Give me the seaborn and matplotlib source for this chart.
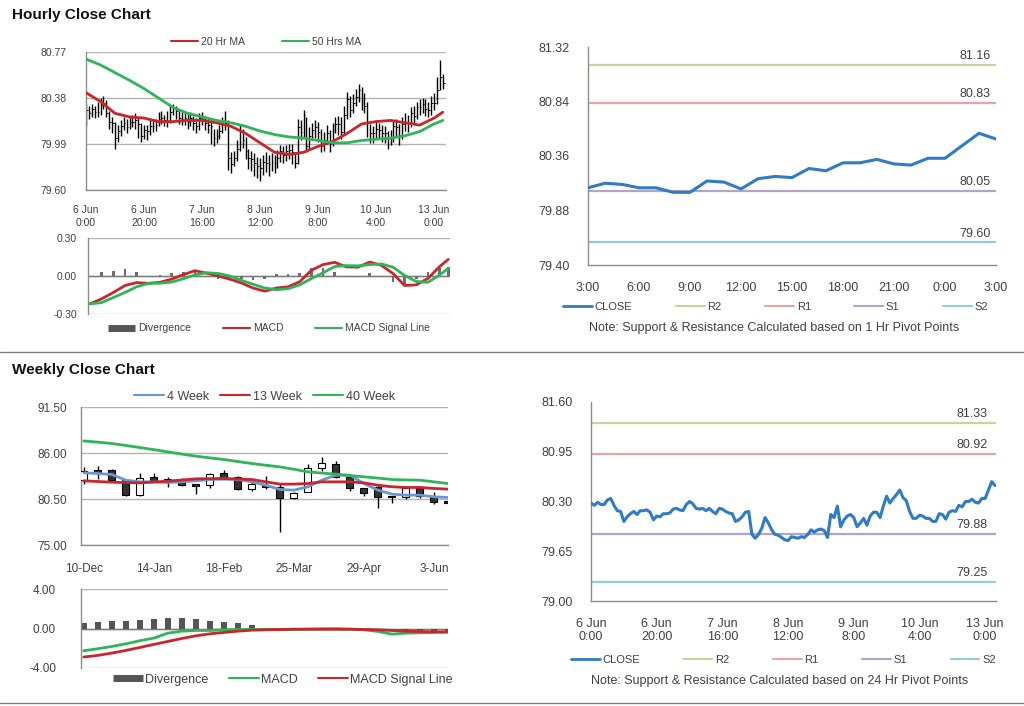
import matplotlib
matplotlib.use("Agg")
import matplotlib.pyplot as plt
from matplotlib.lines import Line2D
import seaborn as sns

# hourly closes, 6 Jun 0:00 -> 13 Jun 3:00 (124 trading hours)
hour_close = [80.28, 80.25, 80.29, 80.26, 80.26, 80.32, 80.34, 80.25, 80.18, 80.17,
              80.04, 80.10, 80.14, 80.17, 80.13, 80.18, 80.18, 80.19, 80.16, 80.06,
              80.11, 80.10, 80.14, 80.14, 80.15, 80.20, 80.21, 80.19, 80.18, 80.26,
              80.30, 80.27, 80.21, 80.20, 80.21, 80.18, 80.21, 80.17, 80.14, 80.21,
              80.20, 80.17, 80.15, 80.14, 80.04, 80.06, 80.10, 80.16, 80.17, 79.87,
              79.82, 79.87, 79.95, 80.09, 80.02, 79.93, 79.87, 79.86, 79.83, 79.80,
              79.79, 79.84, 79.83, 79.82, 79.84, 79.83, 79.87, 79.93, 79.90, 79.93,
              79.94, 79.92, 79.83, 80.13, 80.09, 80.24, 79.97, 80.06, 80.11, 80.13,
              80.09, 79.97, 80.02, 80.08, 79.99, 80.11, 80.16, 80.16, 80.09, 80.24,
              80.37, 80.28, 80.34, 80.39, 80.45, 80.35, 80.31, 80.17, 80.08,
              80.08, 80.12, 80.11, 80.08, 80.08, 80.04, 80.04, 80.14, 80.13, 80.07,
              80.16, 80.18, 80.17, 80.25, 80.23, 80.30, 80.30, 80.33, 80.29, 80.28,
              80.34, 80.34, 80.45, 80.56, 80.51]
hour_high = [80.33, 80.31, 80.33, 80.31, 80.35, 80.38, 80.40, 80.36, 80.27, 80.22,
             80.18, 80.15, 80.19, 80.22, 80.20, 80.23, 80.24, 80.25, 80.22, 80.17,
             80.15, 80.15, 80.19, 80.19, 80.20, 80.26, 80.27, 80.24, 80.27, 80.31,
             80.33, 80.31, 80.27, 80.26, 80.27, 80.25, 80.26, 80.23, 80.21, 80.25,
             80.26, 80.23, 80.21, 80.19, 80.12, 80.12, 80.15, 80.22, 80.27, 80.19,
             79.92, 79.93, 80.02, 80.15, 80.12, 80.05, 79.95, 79.93, 79.91, 79.88,
             79.87, 79.90, 79.92, 79.90, 79.91, 79.90, 79.94, 79.98, 79.97, 79.98,
             79.99, 79.99, 79.92, 80.20, 80.19, 80.28, 80.22, 80.13, 80.17, 80.19,
             80.18, 80.12, 80.09, 80.15, 80.11, 80.17, 80.22, 80.23, 80.22, 80.31,
             80.43, 80.40, 80.41, 80.46, 80.50, 80.47, 80.42, 80.35, 80.16,
             80.14, 80.18, 80.17, 80.15, 80.14, 80.10, 80.11, 80.19, 80.20, 80.16,
             80.22, 80.25, 80.24, 80.30, 80.31, 80.35, 80.37, 80.38, 80.37, 80.35,
             80.40, 80.42, 80.56, 80.70, 80.58]
hour_low = [80.14, 80.20, 80.22, 80.21, 80.22, 80.24, 80.29, 80.22, 80.12, 80.08,
            79.95, 80.01, 80.06, 80.11, 80.08, 80.12, 80.13, 80.12, 80.04, 80.01,
            80.03, 80.02, 80.07, 80.09, 80.10, 80.14, 80.16, 80.14, 80.13, 80.17,
            80.24, 80.20, 80.16, 80.15, 80.15, 80.12, 80.14, 80.11, 80.08, 80.11,
            80.15, 80.11, 80.08, 79.99, 79.97, 80.00, 80.03, 80.08, 80.11, 79.77,
            79.74, 79.80, 79.85, 79.93, 79.96, 79.86, 79.78, 79.76, 79.72, 79.70,
            79.68, 79.73, 79.75, 79.72, 79.76, 79.74, 79.79, 79.84, 79.83, 79.85,
            79.86, 79.82, 79.79, 79.82, 80.02, 80.05, 79.92, 79.95, 80.02, 80.04,
            80.01, 79.92, 79.93, 79.99, 79.92, 79.97, 80.08, 80.07, 80.03, 80.07,
            80.20, 80.22, 80.25, 80.31, 80.35, 80.28, 80.25, 80.05, 80.00,
            80.00, 80.04, 80.04, 80.01, 80.00, 79.95, 79.98, 80.01, 80.06, 79.98,
            80.03, 80.10, 80.09, 80.13, 80.17, 80.20, 80.24, 80.25, 80.23, 80.22,
            80.24, 80.28, 80.33, 80.45, 80.46]
hour_labels = ["6 Jun\n0:00", "6 Jun\n20:00", "7 Jun\n16:00", "8 Jun\n12:00",
               "9 Jun\n8:00", "10 Jun\n4:00", "13 Jun\n0:00"]

# moving averages, read every 5 hours
ma_idx = [0, 5, 10, 15, 20, 25, 30, 35, 40, 45, 50, 55, 60, 65, 70, 75, 80, 85, 90,
          95, 100, 105, 110, 115, 120, 123]
ma20 = [80.425, 80.35, 80.25, 80.22, 80.21, 80.18, 80.18, 80.19, 80.19, 80.17, 80.14,
        80.08, 80.00, 79.92, 79.90, 79.92, 79.97, 80.01, 80.08, 80.16, 80.18, 80.19,
        80.17, 80.15, 80.21, 80.26]
ma50 = [80.71, 80.66, 80.595, 80.53, 80.46, 80.38, 80.30, 80.25, 80.22, 80.19, 80.17,
        80.14, 80.10, 80.07, 80.05, 80.04, 80.02, 80.00, 80.00, 80.02, 80.03, 80.04,
        80.06, 80.095, 80.16, 80.19]

# hourly MACD, read every 4 hours
macd_idx = [0, 4, 8, 12, 16, 20, 24, 28, 32, 36, 40, 44, 48, 52, 56, 60, 64, 68, 72,
            76, 80, 84, 88, 92, 96, 100, 104, 108, 112, 116, 120, 123]
h_macd = [-0.22, -0.18, -0.13, -0.075, -0.052, -0.058, -0.05, -0.025, 0.01, 0.042,
          0.022, 0.0, -0.025, -0.055, -0.095, -0.12, -0.095, -0.085, -0.045, 0.045,
          0.09, 0.108, 0.072, 0.07, 0.11, 0.085, 0.02, -0.075, -0.07, -0.02, 0.074, 0.131]
h_signal = [-0.22, -0.21, -0.17, -0.13, -0.085, -0.058, -0.057, -0.048, -0.022, 0.008,
            0.026, 0.02, 0.0, -0.035, -0.065, -0.095, -0.108, -0.10, -0.07, -0.02,
            0.025, 0.075, 0.082, 0.08, 0.09, 0.095, 0.07, 0.005, -0.043, -0.05, 0.008, 0.06]

# pivot levels
day_labels = ["3:00", "6:00", "9:00", "12:00", "15:00", "18:00", "21:00", "0:00", "3:00"]
lvl_names = ["R2", "R1", "S1", "S2"]
lvl_1h = [81.16, 80.83, 80.05, 79.60]
lvl_24h = [81.33, 80.92, 79.88, 79.25]
lvl_colors = ["#c4d79b", "#e6a5a5", "#b3a2c9", "#93cddd"]

# weekly candles, 10-Dec -> 10-Jun
week_labels = ["10-Dec", "14-Jan", "18-Feb", "25-Mar", "29-Apr", "3-Jun"]
w_open = [82.75, 83.95, 83.94, 82.83, 80.96, 83.15, 82.87, 82.55, 82.30, 82.15, 83.55,
          83.15, 81.64, 82.23, 81.96, 80.57, 81.36, 84.26, 84.66, 83.15, 81.76, 81.96,
          80.85, 80.76, 81.76, 80.76, 80.30]
w_close = [83.87, 83.75, 82.83, 80.96, 83.07, 82.75, 82.55, 82.15, 82.05, 83.47, 83.07,
           81.64, 82.35, 81.88, 80.57, 81.24, 84.26, 84.85, 83.15, 81.76, 81.16, 80.68,
           80.68, 81.76, 80.85, 80.20, 80.05]
w_high = [84.34, 84.40, 84.10, 82.90, 83.60, 83.60, 83.10, 83.00, 82.30, 83.60, 84.00,
          83.30, 82.90, 83.30, 82.30, 81.30, 84.70, 85.50, 85.10, 83.30, 81.80, 82.30,
          80.80, 82.10, 82.10, 81.30, 80.30]
w_low = [82.35, 82.90, 82.60, 80.80, 80.80, 82.60, 81.96, 82.00, 81.08, 81.80, 82.90,
         81.60, 81.50, 81.70, 76.50, 80.50, 81.30, 83.90, 83.00, 81.40, 80.80, 79.37,
         80.05, 80.50, 80.60, 79.90, 80.00]
w_ma4 = [83.63, 83.55, 83.43, 82.75, 82.55, 82.55, 82.47, 82.55, 82.67, 82.83, 82.87,
         82.83, 82.55, 82.15, 81.64, 81.56, 81.96, 82.75, 83.35, 83.35, 82.35, 81.56,
         81.08, 80.96, 80.96, 80.76, 80.68]
w_ma13 = [82.67, 82.59, 82.51, 82.47, 82.43, 82.53, 82.63, 82.77, 82.91, 82.93, 82.95,
          82.89, 82.83, 82.55, 82.28, 82.28, 82.35, 82.55, 82.55, 82.55, 82.43, 82.15,
          81.96, 81.88, 81.88, 81.76, 81.68]
w_ma40 = [87.44, 87.30, 87.13, 86.90, 86.65, 86.40, 86.13, 85.87, 85.62, 85.42, 85.22,
          84.98, 84.74, 84.54, 84.34, 84.05, 83.75, 83.60, 83.47, 83.30, 83.15, 83.00,
          82.83, 82.78, 82.75, 82.55, 82.35]
w_div = [0.54, 0.70, 0.80, 0.80, 0.90, 1.00, 1.10, 1.10, 1.00, 0.80, 0.67, 0.54, 0.34,
         0.10, 0.05, 0.02, 0.02, 0.0, 0.0, 0.0, -0.05, -0.13, -0.20, -0.25, -0.30, -0.30, -0.25]
w_macd = [-2.25, -2.05, -1.82, -1.55, -1.24, -0.97, -0.47, -0.27, -0.20, -0.20, -0.13,
          -0.10, -0.10, -0.10, -0.13, -0.10, -0.07, -0.03, -0.03, -0.07, -0.13, -0.30,
          -0.57, -0.47, -0.44, -0.40, -0.37]
w_signal = [-2.89, -2.72, -2.49, -2.22, -1.92, -1.61, -1.31, -1.01, -0.74, -0.54, -0.40,
            -0.27, -0.17, -0.13, -0.10, -0.07, -0.07, -0.07, -0.07, -0.07, -0.10, -0.13,
            -0.20, -0.27, -0.30, -0.34, -0.34]

RED = "#c8262b"
GREEN = "#2fb45a"
BLUE = "#2f7bc4"
LBLUE = "#6b96d2"
GRID = "#b4b4b4"
SPINE = "#8c8c8c"
TXT = "#404040"
W, H = 1024, 706

sns.set_theme(style="white")
plt.rcParams["font.family"] = ["Liberation Sans", "DejaVu Sans"]


def box(x0, y0, x1, y1):
    return [x0 / W, 1 - y1 / H, (x1 - x0) / W, (y1 - y0) / H]


def style_ax(ax, fs, xpad=8, ypad=8):
    for s in ["top", "right"]:
        ax.spines[s].set_visible(False)
    for s in ["left", "bottom"]:
        ax.spines[s].set_color(SPINE)
        ax.spines[s].set_linewidth(1)
    ax.tick_params(axis="both", labelsize=fs, colors=TXT, length=3, width=0.8,
                   direction="out")
    ax.tick_params(axis="x", pad=xpad, color=SPINE)
    ax.tick_params(axis="y", pad=ypad, color=SPINE)


def div_handle():
    return Line2D([], [], color="#555555", lw=5, solid_capstyle="butt")


def level_chart(ax, xs, close, levels, yticks, ylim, xticks, xlabels, label_xfrac):
    for name, val, col in zip(lvl_names, levels, lvl_colors):
        ax.axhline(val, color=col, lw=1.6, zorder=1)
        ax.annotate(f"{val:.2f}", xy=(label_xfrac, val),
                    xycoords=ax.get_yaxis_transform(), xytext=(0, 2),
                    textcoords="offset points", ha="center", va="bottom",
                    fontsize=9, color=TXT)
    sns.lineplot(x=xs, y=close, ax=ax, color=BLUE, lw=2.2, zorder=3)
    ax.set_ylim(*ylim)
    ax.set_yticks(yticks)
    ax.set_yticklabels([f"{v:.2f}" for v in yticks])
    ax.set_xticks(xticks)
    ax.set_xticklabels(xlabels)
    style_ax(ax, 9, xpad=9, ypad=10)
    handles = [Line2D([], [], color=BLUE, lw=2)] + \
        [Line2D([], [], color=c, lw=1.5) for c in lvl_colors]
    return handles


fig = plt.figure(figsize=(W / 100, H / 100), dpi=100)

fig.text(12 / W, 1 - 15 / H, "Hourly Close Chart", fontsize=11, fontweight="bold",
         va="center", ha="left", color="#111111")
fig.text(12 / W, 1 - 370 / H, "Weekly Close Chart", fontsize=11, fontweight="bold",
         va="center", ha="left", color="#111111")
for yy in [352, 703]:
    fig.add_artist(Line2D([0, 1], [1 - yy / H] * 2, transform=fig.transFigure,
                          color="#7f7f7f", lw=1))

hrs = list(range(len(hour_close)))

# ---- hourly OHLC with MAs ----
ax1 = fig.add_axes(box(86, 52, 446, 190))
ax1.vlines(hrs, hour_low, hour_high, color="black", lw=1.0, zorder=2)
ax1.hlines(hour_close, [h for h in hrs], [h + 0.6 for h in hrs], color="black",
           lw=0.7, zorder=2)
sns.lineplot(x=ma_idx, y=ma20, ax=ax1, color=RED, lw=2, zorder=3)
sns.lineplot(x=ma_idx, y=ma50, ax=ax1, color=GREEN, lw=2, zorder=3)
yt = [79.60, 79.99, 80.38, 80.77]
ax1.set_ylim(79.60, 80.77)
ax1.set_yticks(yt)
ax1.set_yticklabels([f"{v:.2f}" for v in yt])
ax1.set_xlim(0, 124.1)
ax1.set_xticks([0, 20, 40, 60, 80, 100, 120])
ax1.set_xticklabels(hour_labels, linespacing=1.3)
ax1.grid(axis="y", color=GRID, lw=1)
style_ax(ax1, 7.5, xpad=8, ypad=14)
ax1.tick_params(axis="y", length=0)
ax1.legend([Line2D([], [], color=RED, lw=1.5), Line2D([], [], color=GREEN, lw=1.5)],
           ["20 Hr MA", "50 Hrs MA"], loc="center", bbox_to_anchor=(0.5, 1.075),
           ncol=2, frameon=False, fontsize=7.5, handlelength=2.6, handletextpad=0.3,
           columnspacing=3.5, labelcolor=TXT)

# ---- hourly MACD ----
ax2 = fig.add_axes(box(88, 238, 450, 314))
h_div = [m - s for m, s in zip(h_macd, h_signal)]
ax2.bar(macd_idx, h_div, width=0.9, color="#6e6e6e", linewidth=0, zorder=2)
sns.lineplot(x=macd_idx, y=h_macd, ax=ax2, color=RED, lw=2, zorder=3)
sns.lineplot(x=macd_idx, y=h_signal, ax=ax2, color=GREEN, lw=2, zorder=3)
ax2.set_ylim(-0.30, 0.30)
ax2.set_yticks([-0.30, 0.0, 0.30])
ax2.set_yticklabels(["-0.30", "0.00", "0.30"])
ax2.set_xlim(-0.7, 123.6)
ax2.set_xticks([])
ax2.grid(axis="y", color=GRID, lw=1)
ax2.axhline(0, color="#7a7a7a", lw=1, zorder=1)
style_ax(ax2, 7.5, ypad=8)
ax2.spines["bottom"].set_visible(False)
ax2.tick_params(axis="y", length=0)
ax2.legend([div_handle(), Line2D([], [], color=RED, lw=1.5),
            Line2D([], [], color=GREEN, lw=1.5)],
           ["Divergence", "MACD", "MACD Signal Line"], loc="center",
           bbox_to_anchor=(0.5, -0.19), ncol=3, frameon=False, fontsize=7.5,
           handlelength=2.6, handletextpad=0.3, columnspacing=3.0, labelcolor=TXT)

# ---- last 24 hours, 1 hr pivots ----
ax3 = fig.add_axes(box(588, 47, 996, 265))
day_close = hour_close[99:]
hx = list(range(len(day_close)))
hd = level_chart(ax3, hx, day_close, lvl_1h, [79.40, 79.88, 80.36, 80.84, 81.32],
                 (79.40, 81.32), [0, 3, 6, 9, 12, 15, 18, 21, 24], day_labels, 0.948)
ax3.set_xlim(0, 24)
ax3.legend(hd, ["CLOSE"] + lvl_names, loc="center", bbox_to_anchor=(0.46, -0.193),
           ncol=5, frameon=False, fontsize=8, handlelength=2.6, handletextpad=0.25,
           columnspacing=3.9, labelcolor=TXT)
fig.text(774 / W, 1 - 328 / H,
         "Note: Support & Resistance Calculated based on 1 Hr Pivot Points",
         ha="center", va="center", fontsize=9, color=TXT)

# ---- weekly candles ----
ax4 = fig.add_axes(box(81, 407, 448, 545))
wk = list(range(len(w_close)))
ax4.vlines(wk, w_low, w_high, color="black", lw=1, zorder=2)
body_col = ["white" if c >= o else "#333333" for o, c in zip(w_open, w_close)]
ax4.bar(wk, [c - o for o, c in zip(w_open, w_close)], bottom=w_open, width=0.5,
        color=body_col, edgecolor="black", lw=0.8, zorder=3)
sns.lineplot(x=wk, y=w_ma4, ax=ax4, color=LBLUE, lw=2, zorder=4)
sns.lineplot(x=wk, y=w_ma13, ax=ax4, color=RED, lw=2, zorder=4)
sns.lineplot(x=wk, y=w_ma40, ax=ax4, color=GREEN, lw=2, zorder=4)
wyt = [75.00, 80.50, 86.00, 91.50]
ax4.set_ylim(75, 91.5)
ax4.set_yticks(wyt)
ax4.set_yticklabels([f"{v:.2f}" for v in wyt])
ax4.set_xlim(-0.2, 26.0)
ax4.set_xticks([0, 5, 10, 15, 20, 25])
ax4.set_xticklabels(week_labels)
ax4.grid(axis="y", color=GRID, lw=1)
style_ax(ax4, 8.5, xpad=10, ypad=10)
ax4.tick_params(axis="y", length=0)
ax4.legend([Line2D([], [], color=LBLUE, lw=1.5), Line2D([], [], color=RED, lw=1.5),
            Line2D([], [], color=GREEN, lw=1.5)],
           ["4 Week", "13 Week", "40 Week"], loc="center", bbox_to_anchor=(0.5, 1.075),
           ncol=3, frameon=False, fontsize=9, handlelength=2.4, handletextpad=0.2,
           columnspacing=0.9, labelcolor=TXT)

# ---- weekly MACD ----
ax5 = fig.add_axes(box(81, 589, 448, 668))
ax5.bar(wk, w_div, width=0.4, color="#555555", linewidth=0, zorder=2)
sns.lineplot(x=wk, y=w_macd, ax=ax5, color=GREEN, lw=2, zorder=3)
sns.lineplot(x=wk, y=w_signal, ax=ax5, color=RED, lw=2, zorder=3)
ax5.set_ylim(-4, 4)
ax5.set_yticks([-4, 0, 4])
ax5.set_yticklabels(["-4.00", "0.00", "4.00"])
ax5.set_xlim(-0.2, 26.0)
ax5.set_xticks([])
ax5.grid(axis="y", color=GRID, lw=1)
ax5.axhline(0, color="#7a7a7a", lw=1, zorder=1)
style_ax(ax5, 8.5, ypad=18)
ax5.spines["bottom"].set_visible(False)
ax5.tick_params(axis="y", length=0)
ax5.legend([div_handle(), Line2D([], [], color=GREEN, lw=1.5),
            Line2D([], [], color=RED, lw=1.5)],
           ["Divergence", "MACD", "MACD Signal Line"], loc="center",
           bbox_to_anchor=(0.55, -0.15), ncol=3, frameon=False, fontsize=9,
           handlelength=2.4, handletextpad=0.2, columnspacing=1.6, labelcolor=TXT)

# ---- full hourly close, 24 hr pivots ----
ax6 = fig.add_axes(box(591, 402, 996, 601))
hd = level_chart(ax6, hrs, hour_close, lvl_24h, [79.00, 79.65, 80.30, 80.95, 81.60],
                 (79.00, 81.60), [0, 20, 40, 60, 80, 100, 120], hour_labels, 0.94)
ax6.set_xlim(0, 123.3)
ax6.legend(hd, ["CLOSE"] + lvl_names, loc="center", bbox_to_anchor=(0.475, -0.296),
           ncol=5, frameon=False, fontsize=8, handlelength=2.6, handletextpad=0.25,
           columnspacing=3.9, labelcolor=TXT)
fig.text(780 / W, 1 - 681 / H,
         "Note: Support & Resistance Calculated based on 24 Hr Pivot Points",
         ha="center", va="center", fontsize=9, color=TXT)

fig.savefig("out.png", dpi=100, facecolor="white")
